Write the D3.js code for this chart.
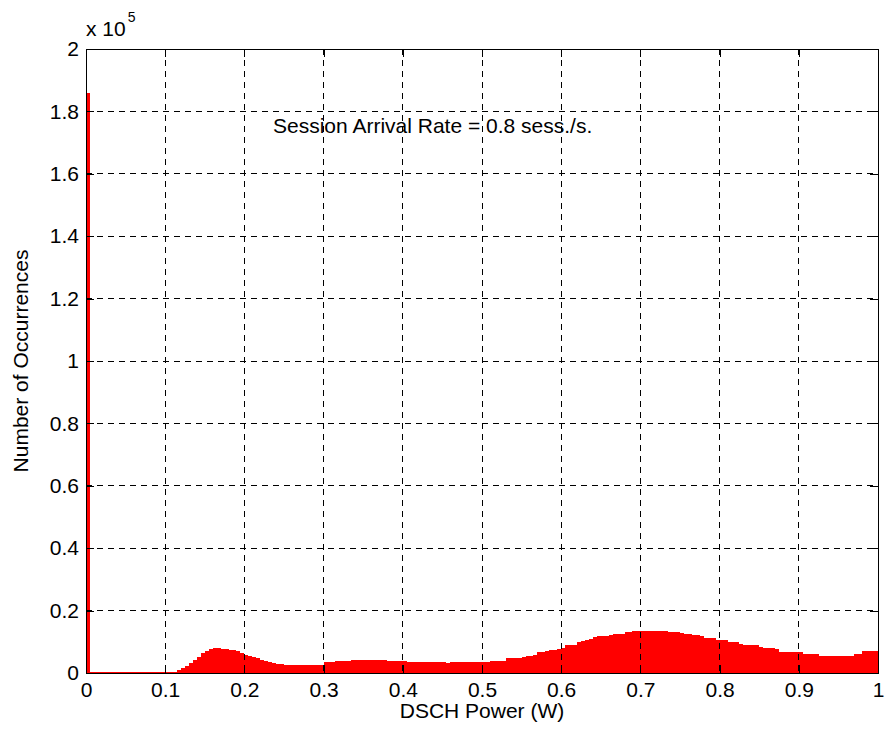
<!DOCTYPE html>
<html>
<head>
<meta charset="utf-8">
<script src="https://cdn.jsdelivr.net/npm/d3@7/dist/d3.min.js"></script>
<style>
  html, body { margin: 0; padding: 0; background: #fff; }
  svg text { font-family: "Liberation Sans", Arial, sans-serif; fill: #000; }
</style>
</head>
<body>
<svg id="chart" width="887" height="740"></svg>
<script>
// Histogram of DSCH power: 200 bins of width 0.005 W over [0, 1] W
const binWidth = 0.005;
const binCounts = [
  186000, 320, 310, 320, 300, 310, 320, 300, 310, 320,
  310, 300, 320, 310, 300, 320, 310, 300, 310, 320,
  300, 310, 320, 1000, 1600, 2300, 3200, 4200, 5200, 6400,
  7200, 7700, 8000, 8000, 7800, 7700, 7500, 7300, 6900, 6400,
  5800, 5300, 5000, 4800, 4200, 3800, 3500, 3200, 2900, 2750,
  2700, 2680, 2700, 2690, 2700, 2680, 2700, 2710, 2700, 2700,
  3400, 3400, 3420, 3750, 3750, 3760, 3750, 4250, 4260, 4250,
  4270, 4250, 4260, 4250, 4240, 4250, 3750, 3750, 3760, 3750,
  3740, 3450, 3450, 3440, 3450, 3460, 3450, 3440, 3450, 3450,
  3440, 3200, 3450, 3450, 3440, 3450, 3460, 3450, 3450, 3440,
  3450, 3450, 3750, 3750, 3760, 3750, 4800, 4800, 4850, 4850,
  5000, 5500, 5550, 5900, 6600, 6650, 6900, 7300, 7300, 7700,
  8000, 8900, 8900, 9000, 9800, 10250, 10600, 10900, 11400, 11950,
  11950, 12000, 12200, 12600, 12600, 12650, 13100, 13150, 13450, 13550,
  13550, 13560, 13550, 13540, 13550, 13560, 13550, 13050, 13050, 13000,
  12750, 12600, 12600, 12100, 12050, 12000, 11200, 11200, 11150, 10700,
  10650, 10550, 9850, 9800, 9800, 9300, 8950, 8950, 8950, 8900,
  8300, 7900, 7900, 7900, 7850, 6850, 6800, 6800, 6800, 6800,
  6800, 6100, 6100, 6100, 6050, 5350, 5350, 5340, 5350, 5350,
  5360, 5350, 5350, 5400, 6200, 6200, 7150, 7150, 7150, 7150
];
const xTicks = [0, 0.1, 0.2, 0.3, 0.4, 0.5, 0.6, 0.7, 0.8, 0.9, 1];
const xTickLabels = ["0", "0.1", "0.2", "0.3", "0.4", "0.5", "0.6", "0.7", "0.8", "0.9", "1"];
const yTicks = [0, 20000, 40000, 60000, 80000, 100000, 120000, 140000, 160000, 180000, 200000];
const yTickLabels = ["0", "0.2", "0.4", "0.6", "0.8", "1", "1.2", "1.4", "1.6", "1.8", "2"];
const xTitle = "DSCH Power (W)";
const yTitle = "Number of Occurrences";
const annotation = "Session Arrival Rate = 0.8 sess./s.";

const bins = binCounts.map((c, i) => ({ x0: i * binWidth, x1: (i + 1) * binWidth, count: c }));

const svg = d3.select("#chart");
const plot = { left: 86, right: 878, top: 49, bottom: 673 };

const x = d3.scaleLinear().domain([0, 1]).range([plot.left, plot.right]);
const y = d3.scaleLinear().domain([0, 200000]).range([plot.bottom, plot.top]);

// bars, pixel-snapped so neighbouring bins share edges without seams
svg.append("g")
  .attr("shape-rendering", "crispEdges")
  .selectAll("rect")
  .data(bins)
  .join("rect")
  .attr("x", d => x(d.x0))
  .attr("width", d => x(d.x1) - x(d.x0))
  .attr("y", d => y(d.count))
  .attr("height", d => y(0) - y(d.count))
  .attr("fill", "#ff0000");

// dashed grid
const grid = svg.append("g")
  .attr("stroke", "#000")
  .attr("stroke-width", 1)
  .attr("stroke-dasharray", "6,5")
  .attr("shape-rendering", "crispEdges");
grid.selectAll("line.vx")
  .data(xTicks.slice(1, -1))
  .join("line")
  .attr("x1", d => x(d)).attr("x2", d => x(d))
  .attr("y1", plot.top).attr("y2", plot.bottom);
grid.selectAll("line.hy")
  .data(yTicks.slice(1))
  .join("line")
  .attr("x1", plot.left).attr("x2", plot.right)
  .attr("y1", d => y(d)).attr("y2", d => y(d));

// axes with inward ticks on all four sides
const fontSize = "21px";
const bottomAxis = d3.axisBottom(x).tickValues(xTicks).tickSize(-8).tickPadding(9)
  .tickFormat((d, i) => xTickLabels[i]);
const topAxis = d3.axisTop(x).tickValues(xTicks).tickSize(-8).tickFormat("");
const leftAxis = d3.axisLeft(y).tickValues(yTicks).tickSize(-8).tickPadding(7)
  .tickFormat((d, i) => yTickLabels[i]);
const rightAxis = d3.axisRight(y).tickValues(yTicks).tickSize(-8).tickFormat("");

function styleAxis(g) {
  g.select(".domain").attr("stroke", "#000");
  g.selectAll(".tick line").attr("stroke", "#000");
  g.selectAll("text").style("font-size", fontSize).attr("fill", "#000");
  g.attr("shape-rendering", "crispEdges");
}
svg.append("g").attr("transform", `translate(0,${plot.bottom})`).call(bottomAxis).call(styleAxis);
svg.append("g").attr("transform", `translate(0,${plot.top})`).call(topAxis).call(styleAxis);
svg.append("g").attr("transform", `translate(${plot.left},0)`).call(leftAxis).call(styleAxis);
svg.append("g").attr("transform", `translate(${plot.right},0)`).call(rightAxis).call(styleAxis);
svg.selectAll(".domain").attr("d", null);

// box outline
svg.append("rect")
  .attr("x", plot.left).attr("y", plot.top)
  .attr("width", plot.right - plot.left).attr("height", plot.bottom - plot.top)
  .attr("fill", "none").attr("stroke", "#000").attr("shape-rendering", "crispEdges");

// axis titles
svg.append("text")
  .attr("x", (plot.left + plot.right) / 2).attr("y", 718)
  .attr("text-anchor", "middle").style("font-size", fontSize)
  .text(xTitle);
svg.append("text")
  .attr("transform", `translate(28,${(plot.top + plot.bottom) / 2}) rotate(-90)`)
  .attr("text-anchor", "middle").style("font-size", fontSize)
  .text(yTitle);

// exponent label
const expo = svg.append("text").attr("x", plot.left).attr("y", 36).style("font-size", fontSize);
expo.append("tspan").text("x 10");
expo.append("tspan").attr("dy", -14).attr("dx", 2).style("font-size", "14px").text("5");

// annotation
svg.append("text")
  .attr("x", 273).attr("y", 133)
  .style("font-size", fontSize)
  .text(annotation);
</script>
</body>
</html>
